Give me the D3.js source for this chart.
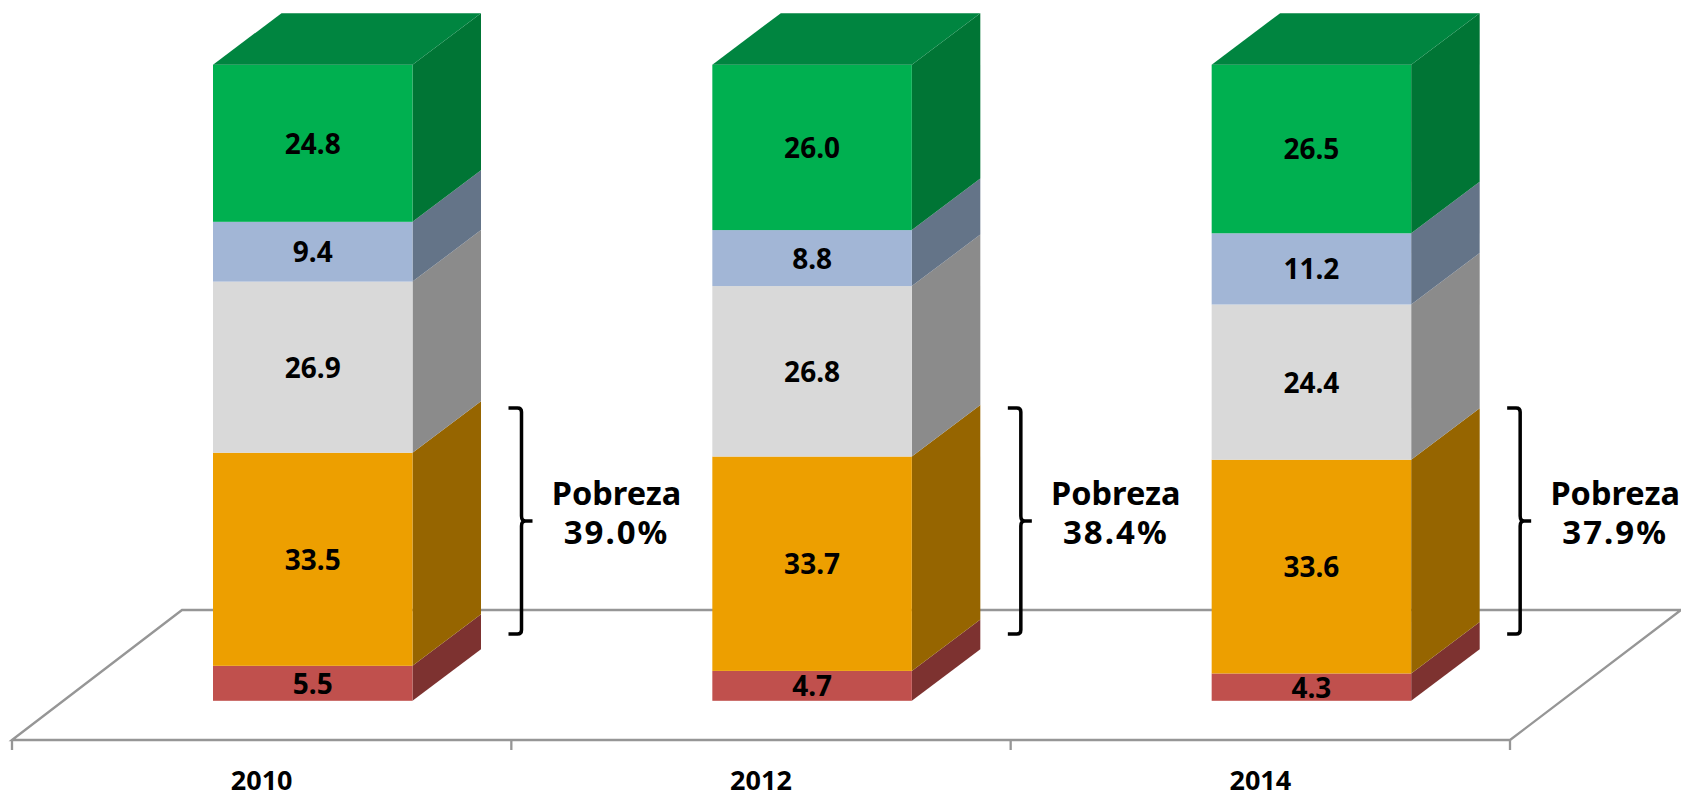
<!DOCTYPE html>
<html><head><meta charset="utf-8">
<style>html,body{margin:0;padding:0;background:#fff;overflow:hidden}svg{display:block}</style>
<script src="https://cdn.jsdelivr.net/npm/d3@7"></script></head>
<body><div id="c"></div>
<script>
const years = ["2010","2012","2014"];
const seriesNames = ["Pobreza extrema","Pobreza no extrema","Vulnerable no pobre bajo","Vulnerable","No vulnerable"];
const extreme = [5.5,4.7,4.3];
const nonExtreme = [33.5,33.7,33.6];
const lowGrey = [26.9,26.8,24.4];
const blueBand = [9.4,8.8,11.2];
const topGreen = [24.8,26.0,26.5];
const povertyTotals = ["39.0%","38.4%","37.9%"];
const frontColors = ["#C0504D","#ED9F00","#D9D9D9","#A2B6D6","#00B050"];
const sideColors = ["#7D3230","#966500","#8B8B8B","#647488","#007535"];
const topColor = "#008540";
const allSeries = [extreme,nonExtreme,lowGrey,blueBand,topGreen];

const W=1681,H=792, depthX=68.5, depthY=51.5;
const svg=d3.select("#c").append("svg").attr("width",W).attr("height",H);
const font="'Noto Sans',sans-serif";
const x=d3.scaleBand().domain(years).range([12,1510]);
const y=d3.scaleLinear().domain([0,100]).range([700.8,64.7]);
const barOffset=201, barW=199.5;

// floor
const fl=740, bk=fl-130;
const floorPts=[[12,fl],[12+170,bk],[1681,bk],[1510,fl]];
svg.append("path").attr("d",d3.line()(floorPts)+"Z").attr("fill","#fff").attr("stroke","#969696").attr("stroke-width",2.3);
// ticks
[...years.map(d=>x(d)),1510].forEach(t=>svg.append("line").attr("x1",t).attr("x2",t).attr("y1",fl).attr("y2",fl+10).attr("stroke","#969696").attr("stroke-width",2.3));
// year labels
svg.selectAll("text.yr").data(years).join("text").attr("class","yr")
 .attr("x",d=>x(d)+x.bandwidth()/2).attr("y",fl+50).attr("text-anchor","middle")
 .attr("font-family",font).attr("font-weight",700).attr("font-size",27).attr("fill","#000").text(d=>d);

years.forEach((yr,i)=>{
  const x0=x(yr)+barOffset, x1=x0+barW;
  let cum=0;
  const g=svg.append("g");
  allSeries.forEach((s,k)=>{
    const v=s[i], yb=y(cum), yt=Math.max(y(cum+v),y(100));
    g.append("path").attr("d",d3.line()([[x1,yb],[x1+depthX,yb-depthY],[x1+depthX,yt-depthY],[x1,yt]])+"Z").attr("fill",sideColors[k]);
    g.append("rect").attr("x",x0).attr("y",yt).attr("width",barW).attr("height",yb-yt).attr("fill",frontColors[k]);
    g.append("text").attr("x",(x0+x1)/2).attr("y",(yb+yt)/2+10.5).attr("text-anchor","middle")
      .attr("font-family",font).attr("font-weight",700).attr("font-size",28).attr("fill","#000").text(v.toFixed(1));
    cum+=v;
  });
  const yt=y(100);
  g.append("path").attr("d",d3.line()([[x0,yt],[x0+depthX,yt-depthY],[x1+depthX,yt-depthY],[x1,yt]])+"Z").attr("fill",topColor);

  // bracket
  const bx=x1+109, top=408, bot=634, mid=521;
  svg.append("path").attr("fill","none").attr("stroke","#000").attr("stroke-width",3.5)
    .attr("d",`M${bx-13},${top}H${bx-4}Q${bx},${top} ${bx},${top+4}V${mid-5}Q${bx},${mid} ${bx+4},${mid}H${bx+11}M${bx+4},${mid}Q${bx},${mid} ${bx},${mid+5}V${bot-4}Q${bx},${bot} ${bx-4},${bot}H${bx-13}`);
  const tx=x1+204;
  svg.append("text").attr("x",tx).attr("y",505).attr("text-anchor","middle").attr("font-family",font).attr("font-weight",700).attr("font-size",32.5).text("Pobreza");
  svg.append("text").attr("x",tx).attr("y",544).attr("text-anchor","middle").attr("font-family",font).attr("font-weight",700).attr("font-size",33).attr("letter-spacing",2).text(povertyTotals[i]);
});
</script></body></html>
